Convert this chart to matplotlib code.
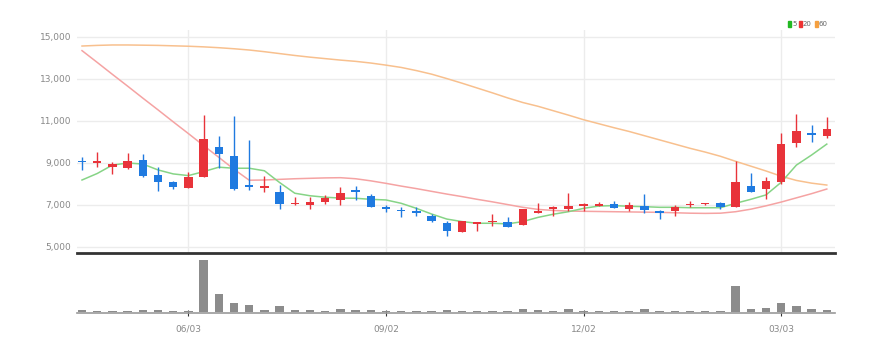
import matplotlib
matplotlib.use("Agg")
import matplotlib.pyplot as plt
from matplotlib.patches import Rectangle
from matplotlib import font_manager

# weekly candles (open / high / low / close)
opens = [9070, 9020, 8810, 8780, 9130, 8430, 8110, 7810, 8330, 9780,
         9350, 7920, 7800, 7630, 7040, 7010, 7140, 7240, 7710, 7430,
         6860, 6730, 6710, 6490, 6160, 5730, 6110, 6190, 6170, 6030,
         6640, 6820, 6830, 6970, 6950, 7030, 6830, 6950, 6650, 6710,
         6980, 7040, 7080, 6920, 7900, 7750, 8080, 9940, 10360, 10300]
highs = [9270, 9520, 9050, 9480, 9430, 8810, 8140, 8570, 11290, 10290,
         11240, 10100, 8380, 7950, 7380, 7380, 7480, 7860, 7900, 7520,
         7000, 6900, 6900, 6570, 6250, 6250, 6190, 6570, 6430, 6790,
         7100, 6950, 7570, 7110, 7140, 7190, 7140, 7540, 6760, 6980,
         7190, 7080, 7160, 9100, 8520, 8330, 10430, 11330, 10810, 11190]
lows = [8670, 8810, 8480, 8720, 8330, 7670, 7760, 7810, 8330, 8760,
        7710, 7710, 7620, 6810, 7000, 6810, 7050, 7000, 7240, 6900,
        6670, 6430, 6480, 6200, 5520, 5730, 5760, 6000, 5970, 6030,
        6620, 6490, 6710, 6710, 6950, 6870, 6710, 6620, 6330, 6490,
        6920, 7020, 6810, 6890, 7620, 7290, 8000, 9760, 10000, 10190]
closes = [9040, 9050, 8950, 9110, 8400, 8100, 7840, 8350, 10160, 9430,
          7750, 7880, 7920, 7030, 7070, 7140, 7320, 7570, 7600, 6920,
          6820, 6700, 6640, 6250, 5760, 6250, 6140, 6220, 5970, 6790,
          6660, 6840, 6950, 6990, 7060, 6870, 6980, 6760, 6630, 6920,
          7060, 7060, 6920, 8080, 7620, 8130, 9900, 10520, 10340, 10600]

# moving averages as shown on the chart
ma5 = [8190, 8500, 8900, 9000, 8950, 8670, 8480, 8400, 8590, 8800,
       8750, 8750, 8630, 8070, 7560, 7440, 7370, 7330, 7320, 7270,
       7240, 7080, 6840, 6570, 6330, 6210, 6130, 6130, 6100, 6210,
       6410, 6560, 6680, 6840, 6950, 6970, 6940, 6920, 6890, 6890,
       6870, 6870, 6870, 7080, 7270, 7480, 8080, 8900, 9380, 9900]
ma20 = [14350, 13790, 13220, 12660, 12090, 11530, 10960, 10400, 9830, 9270,
        8700, 8180, 8190, 8220, 8250, 8270, 8290, 8300, 8250, 8150,
        8030, 7900, 7780, 7650, 7520, 7400, 7270, 7150, 7020, 6890,
        6790, 6740, 6710, 6700, 6690, 6680, 6670, 6660, 6650, 6630,
        6610, 6600, 6610, 6680, 6800, 6960, 7140, 7340, 7540, 7760]
ma60 = [14570, 14600, 14620, 14620, 14610, 14600, 14580, 14560, 14530, 14490,
        14440, 14380, 14300, 14210, 14120, 14040, 13970, 13900, 13840, 13760,
        13660, 13550, 13400, 13230, 13020, 12800, 12570, 12340, 12100, 11880,
        11700, 11490, 11280, 11060, 10870, 10680, 10500, 10300, 10100, 9900,
        9700, 9520, 9320, 9080, 8850, 8620, 8370, 8170, 8040, 7950]

volumes = [22, 17, 17, 17, 24, 24, 17, 17, 527, 183,
           93, 77, 24, 60, 24, 24, 17, 30, 24, 24,
           17, 17, 17, 17, 24, 17, 17, 17, 17, 30,
           24, 17, 30, 17, 17, 17, 17, 30, 17, 17,
           17, 10, 17, 270, 30, 43, 93, 60, 30, 24]

tick_pos = [7, 20, 33, 46]
tick_labels = ["06/03", "09/02", "12/02", "03/03"]
price_ticks = [5000, 7000, 9000, 11000, 13000, 15000]

# narrow font if there is one, otherwise a smaller DejaVu Sans
names = {f.name for f in font_manager.fontManager.ttflist}
if "Liberation Sans Narrow" in names:
    font, fs, lfs = "Liberation Sans Narrow", 7.5, 5.5
elif "DejaVu Sans Condensed" in names:
    font, fs, lfs = "DejaVu Sans Condensed", 7, 5
else:
    font, fs, lfs = "DejaVu Sans", 6.5, 5

RED = "#e8333a"
BLUE = "#1f7ae0"

W, H = 887, 352
fig = plt.figure(figsize=(W / 100, H / 100), dpi=100)

def box(x0, y0, x1, y1):
    # pixel box (top-left origin) -> figure fraction
    return [x0 / W, 1 - y1 / H, (x1 - x0) / W, (y1 - y0) / H]

ax = fig.add_axes(box(77, 30, 835, 253))
vax = fig.add_axes(box(77, 258, 835, 313))

x = list(range(len(closes)))

# price panel
for y in price_ticks:
    ax.axhline(y, color="#ececec", lw=1, zorder=0)
for t in tick_pos:
    ax.axvline(t, color="#ececec", lw=1, zorder=0)

ax.plot(x, ma60, color="#f8c08e", lw=1.1, zorder=1)
ax.plot(x, ma20, color="#f5a3a3", lw=1.1, zorder=1)
ax.plot(x, ma5, color="#86d486", lw=1.1, zorder=1)

for i in x:
    o, h, l, c = opens[i], highs[i], lows[i], closes[i]
    col = RED if c > o else BLUE
    ax.vlines(i, l, h, color=col, lw=1, zorder=2)
    bottom = min(o, c)
    height = max(abs(c - o), 70)
    ax.bar(i, height, bottom=bottom, width=0.55, color=col, zorder=3)

ax.set_xlim(-0.33, 49.54)
ax.set_ylim(4714, 15333)
ax.set_yticks(price_ticks)
ax.set_yticklabels([f"{v:,}" for v in price_ticks], family=font, fontsize=fs, color="#888888")
ax.set_xticks([])
ax.tick_params(axis="y", length=0, pad=4)
for s in ["top", "right", "left"]:
    ax.spines[s].set_visible(False)
ax.spines["bottom"].set_color("#333333")
ax.spines["bottom"].set_linewidth(2)

# volume panel
vax.bar(x, volumes, width=0.55, color="#8c8c8c", zorder=3)
vax.set_xlim(-0.33, 49.54)
vax.set_ylim(-8, 550)
vax.set_yticks([])
vax.set_xticks(tick_pos)
vax.set_xticklabels(tick_labels, family=font, fontsize=fs, color="#888888")
vax.tick_params(axis="x", length=4, direction="inout", color="#333333", pad=6)
for s in ["top", "right", "left"]:
    vax.spines[s].set_visible(False)
vax.spines["bottom"].set_color("#999999")
vax.spines["bottom"].set_linewidth(1.2)

# legend in the top right corner
legend = [("5", "#22b822", 788), ("20", "#ee3333", 799), ("60", "#f5a040", 815)]
for label, col, px in legend:
    fig.patches.append(Rectangle((px / W, 1 - 27 / H), 3 / W, 6 / H,
                                 transform=fig.transFigure, color=col))
    fig.text((px + 4) / W, 1 - 24 / H, label, family=font, fontsize=lfs,
             color="#666666", va="center", ha="left")

fig.savefig("out.png", dpi=100)
